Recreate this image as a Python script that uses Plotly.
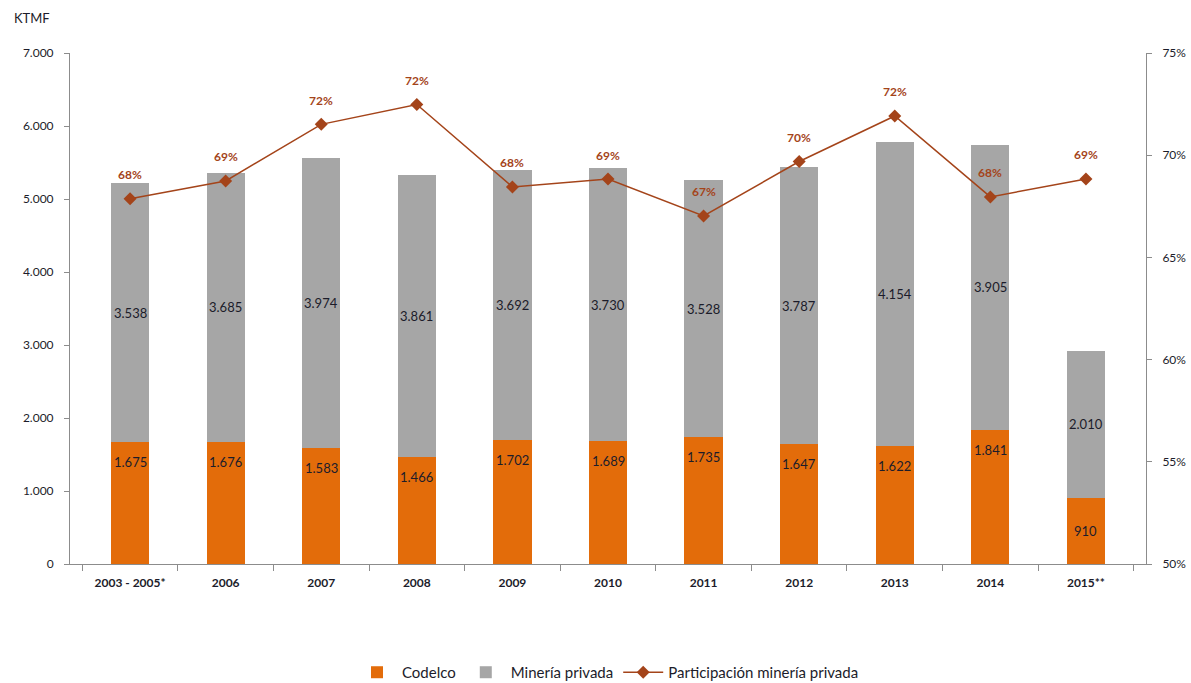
import plotly.graph_objects as go

# Copper production by producer (thousand metric tonnes of fine copper)
categories = ["2003 - 2005*", "2006", "2007", "2008", "2009", "2010",
              "2011", "2012", "2013", "2014", "2015**"]
codelco = [1675, 1676, 1583, 1466, 1702, 1689, 1735, 1647, 1622, 1841, 910]
privada = [3538, 3685, 3974, 3861, 3692, 3730, 3528, 3787, 4154, 3905, 2010]
# Share of private mining in total output
participacion = [0.6787, 0.6874, 0.7151, 0.7248, 0.6845, 0.6883,
                 0.6703, 0.6969, 0.7192, 0.6796, 0.6884]

ORANGE = "#e36c0a"
GREY = "#a6a6a6"
BROWN = "#a4441a"
AXIS = "#8c8c8c"
TEXT = "#1c1c2a"
FONT = "Lato"


def miles(v):
    return f"{v:,}".replace(",", ".")


fig = go.Figure()

fig.add_trace(go.Bar(
    name="Codelco", x=categories, y=codelco, marker_color=ORANGE,
    marker_line_width=0, width=0.4, hoverinfo="y"))
fig.add_trace(go.Bar(
    name="Minería privada", x=categories, y=privada, marker_color=GREY,
    marker_line_width=0, width=0.4, hoverinfo="y"))
fig.add_trace(go.Scatter(
    name="Participación minería privada", x=categories, y=participacion,
    yaxis="y2", mode="lines+markers",
    line=dict(color=BROWN, width=1.5),
    marker=dict(symbol="diamond", size=10, color=BROWN)))

value_font = dict(size=13, family=FONT, color=TEXT)
annotations = []
for i, (c, p, s) in enumerate(zip(codelco, privada, participacion)):
    # Codelco value near the top of the orange segment (centred if short)
    if c < 1000:
        annotations.append(dict(x=i, y=c / 2, yref="y", text=miles(c),
                                showarrow=False, font=value_font))
    else:
        annotations.append(dict(x=i, y=c, yref="y", yshift=-20,
                                text=miles(c), showarrow=False,
                                font=value_font))
    # Private mining value centred in the grey segment
    annotations.append(dict(x=i, y=c + p / 2, yref="y", text=miles(p),
                            showarrow=False, font=value_font))
    # Share label above each marker
    annotations.append(dict(x=i, y=s, yref="y2", yshift=24,
                            text=f"<b>{round(s * 100)}%</b>", showarrow=False,
                            font=dict(color=BROWN, size=12, family=FONT)))

annotations.append(dict(x=-0.054, y=1.068, xref="paper", yref="paper",
                        xanchor="left", yanchor="middle", text="KTMF",
                        showarrow=False,
                        font=dict(size=13, color=TEXT, family=FONT)))

fig.update_layout(
    barmode="stack",
    width=1191, height=683,
    margin=dict(l=70, r=45, t=53, b=119, autoexpand=False),
    paper_bgcolor="white", plot_bgcolor="white",
    separators=",.",
    font=dict(family=FONT, size=12, color=TEXT),
    annotations=annotations,
    xaxis=dict(
        type="category", showline=True, linecolor=AXIS, linewidth=1,
        ticks="outside", tickson="boundaries", ticklen=6, tickcolor=AXIS,
        tickfont=dict(size=12, family=FONT, color=TEXT, weight="bold"),
        showgrid=False, tickangle=0, ticklabelstandoff=8),
    yaxis=dict(
        range=[0, 7000], dtick=1000, tickformat=",d",
        showline=True, linecolor=AXIS, linewidth=1,
        ticks="outside", ticklen=5, tickcolor=AXIS,
        showgrid=False, zeroline=False, ticklabelstandoff=8,
        tickfont=dict(size=12, family=FONT, color=TEXT)),
    yaxis2=dict(
        range=[0.5, 0.75], dtick=0.05, tickformat=".0%",
        overlaying="y", side="right",
        showline=True, linecolor=AXIS, linewidth=1,
        ticks="outside", ticklen=5, tickcolor=AXIS,
        showgrid=False, zeroline=False, ticklabelstandoff=8,
        tickfont=dict(size=12, family=FONT, color=TEXT)),
    legend=dict(orientation="h", x=0.5, xanchor="center", y=-0.18,
                yanchor="top", font=dict(size=15, family=FONT, color=TEXT),
                traceorder="normal", itemwidth=40),
)

fig.write_html("out.html")
